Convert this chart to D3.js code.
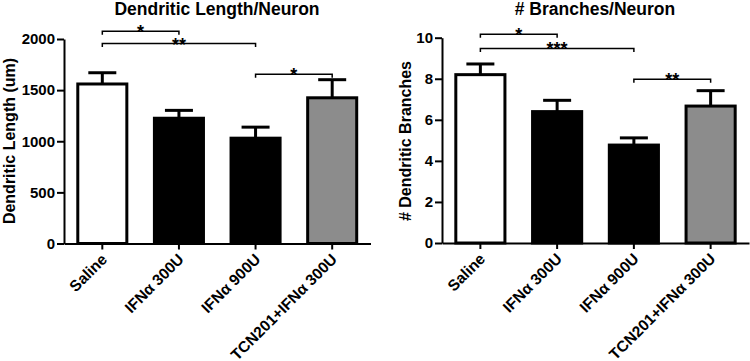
<!DOCTYPE html>
<meta charset="utf-8">
<style>
  body { margin: 0; background: #fff; }
  text { font-family: "Liberation Sans", Arial, sans-serif; font-weight: bold; fill: #000; }
</style>
<body>
<script src="https://cdn.jsdelivr.net/npm/d3@7"></script>
<script>

var width = 750,
  height = 361;

// data
var groups = ["Saline", "IFN\u03b1 300U", "IFN\u03b1 900U", "TCN201+IFN\u03b1 300U"];
var fills = ["#ffffff", "#000000", "#000000", "#8c8c8c"];

var lengthMean = [1560, 1225, 1030, 1425];
var lengthErr = [1670, 1302, 1138, 1602];
var lengthTicks = [0, 500, 1000, 1500, 2000];
// [from, to, level, label]
var lengthSig = [[0, 1, 2075, "*"], [0, 2, 1955, "**"], [2, 3, 1655, "*"]];

var branchMean = [8.2, 6.4, 4.77, 6.67];
var branchErr = [8.72, 6.95, 5.12, 7.42];
var branchTicks = [0, 2, 4, 6, 8, 10];
var branchSig = [[0, 1, 10.17, "*"], [0, 2, 9.48, "***"], [2, 3, 7.98, "**"]];

var svg = d3.select("body").append("svg")
  .attr("width", width)
  .attr("height", height)

function panel(opt) {
  var g = svg.append("g")

  var x = d3.scaleBand()
    .domain(groups)
    .range([opt.left, opt.right])
    .paddingInner(0.36)
    .paddingOuter(0.18)

  var y = d3.scaleLinear()
    .domain([0, opt.max])
    .range([opt.bottom, opt.top])

  // error bars (behind the bars)
  g.selectAll(".err").data(groups).enter().append("g")
    .attr("class", "err")
    .each(function(d, i) {
      var cx = x(d) + x.bandwidth() / 2;
      var e = d3.select(this);
      e.append("line")
        .attr("x1", cx).attr("x2", cx)
        .attr("y1", y(opt.mean[i])).attr("y2", y(opt.err[i]))
        .attr("stroke", "#000").attr("stroke-width", 3)
      e.append("line")
        .attr("x1", cx - 14).attr("x2", cx + 14)
        .attr("y1", y(opt.err[i])).attr("y2", y(opt.err[i]))
        .attr("stroke", "#000").attr("stroke-width", 3)
    })

  g.selectAll(".bar").data(groups).enter().append("rect")
    .attr("class", "bar")
    .attr("x", function(d) { return x(d); })
    .attr("width", x.bandwidth())
    .attr("y", function(d, i) { return y(opt.mean[i]); })
    .attr("height", function(d, i) { return y(0) - y(opt.mean[i]); })
    .attr("fill", function(d, i) { return fills[i]; })
    .attr("stroke", "#000")
    .attr("stroke-width", 3)

  // y axis
  var ya = g.append("g")
    .attr("transform", "translate(" + opt.left + ",0)")
    .call(d3.axisLeft(y).tickValues(opt.ticks).tickFormat(d3.format("d"))
      .tickSize(7).tickPadding(2).tickSizeOuter(0))
  ya.select(".domain").attr("stroke-width", 2)
  ya.selectAll(".tick line").attr("stroke-width", 2)
  ya.selectAll("text").style("font-size", "15px")

  // x axis
  var xa = g.append("g")
    .attr("transform", "translate(0," + opt.bottom + ")")
    .call(d3.axisBottom(x).tickSize(6).tickSizeOuter(0))
  xa.select(".domain").attr("stroke-width", 2)
  xa.selectAll(".tick line").attr("stroke-width", 2)
  xa.selectAll("text")
    .style("font-size", "15.5px")
    .attr("text-anchor", "end")
    .attr("dy", "0.35em")
    .attr("transform", "translate(2,13) rotate(-45)")
    .attr("x", 0).attr("y", 0)

  // significance brackets
  opt.sig.forEach(function(s) {
    var x1 = x(groups[s[0]]) + x.bandwidth() / 2,
      x2 = x(groups[s[1]]) + x.bandwidth() / 2,
      yy = y(s[2]);
    g.append("path")
      .attr("d", "M" + x1 + "," + (yy + 3.5) + "V" + yy + "H" + x2 + "V" + (yy + 3.5))
      .attr("fill", "none").attr("stroke", "#000").attr("stroke-width", 1.5)
    g.append("text")
      .attr("x", (x1 + x2) / 2).attr("y", yy + 7)
      .attr("text-anchor", "middle")
      .style("font-size", "18px")
      .text(s[3])
  })

  // title and y label
  g.append("text")
    .attr("x", opt.titleX).attr("y", 15)
    .attr("text-anchor", "middle")
    .style("font-size", "17.5px")
    .text(opt.title)

  g.append("text")
    .attr("transform", "translate(" + opt.labelX + ",141) rotate(-90)")
    .attr("text-anchor", "middle")
    .style("font-size", "16px")
    .text(opt.ylabel)
}

panel({
  left: 64, right: 370.5, top: 39, bottom: 243.5, max: 2000,
  mean: lengthMean, err: lengthErr, ticks: lengthTicks, sig: lengthSig,
  title: "Dendritic Length/Neuron", titleX: 217,
  ylabel: "Dendritic Length (um)", labelX: 15
})

panel({
  left: 442, right: 749, top: 37.7, bottom: 243, max: 10,
  mean: branchMean, err: branchErr, ticks: branchTicks, sig: branchSig,
  title: "# Branches/Neuron", titleX: 595,
  ylabel: "# Dendritic Branches", labelX: 411
})

</script>
</body>
</html>
